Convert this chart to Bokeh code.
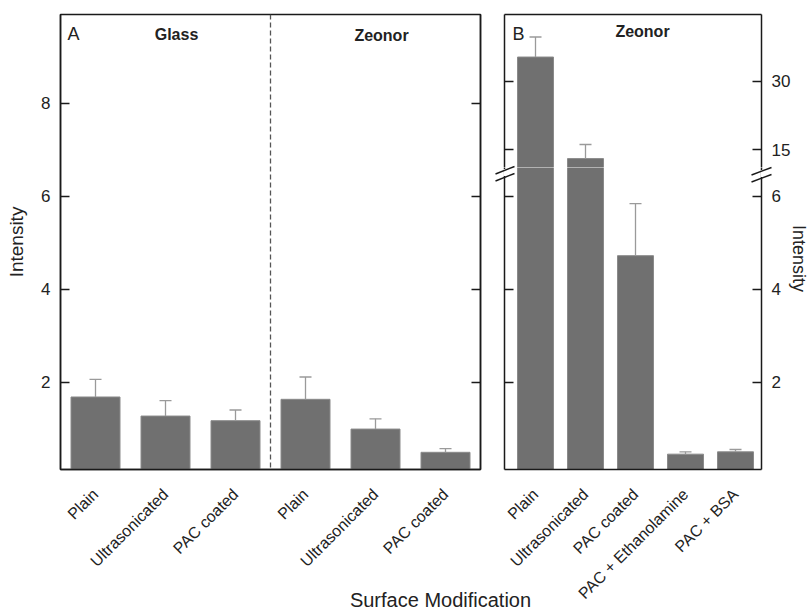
import math
from bokeh.plotting import figure
from bokeh.layouts import row, column
from bokeh.models import Range1d, LinearAxis, FixedTicker, Span, Label, ColumnDataSource
from bokeh.core.properties import value
from bokeh.embed import file_html
from bokeh.resources import INLINE

# ---------------- data ----------------
a_groups = ["Glass", "Zeonor"]
a_labels = ["Plain", "Ultrasonicated", "PAC coated", "Plain", "Ultrasonicated", "PAC coated"]
a_values = [1.68, 1.27, 1.17, 1.63, 0.99, 0.49]
a_err_top = [2.06, 1.60, 1.40, 2.11, 1.21, 0.57]

b_group = "Zeonor"
b_labels = ["Plain", "Ultrasonicated", "PAC coated", "PAC + Ethanolamine", "PAC + BSA"]
b_values = [35.3, 13.0, 4.72, 0.45, 0.50]
b_err_top = [39.7, 16.1, 5.84, 0.50, 0.55]

a_ticks = [2, 4, 6, 8]
b_low_ticks = [2, 4, 6]
b_high_ticks = [15, 30]

x_title = "Surface Modification"
y_title = "Intensity"
panel_tags = ["A", "B"]

# ---------------- style ----------------
FONT = "Liberation Sans"
BAR_FILL = "#707070"
BAR_LINE = "#8a8a8a"
ERR_COL = "#9a9a9a"
INK = "#1a1a1a"
TXT = "#222222"

PAGE_W, PAGE_H = 808, 608
TOP, BOTTOM = 14, 139          # frame top border / bottom border (frame bottom at 469)


def style_axis(ax, show_labels=True, size="17px", standoff=10):
    ax.axis_line_color = INK
    ax.axis_line_width = 1.5
    ax.major_tick_in = 9
    ax.major_tick_out = 0
    ax.major_tick_line_color = INK
    ax.major_tick_line_width = 1.3
    ax.minor_tick_line_color = None
    ax.major_label_text_font = FONT
    if show_labels:
        ax.major_label_text_font_size = size
        ax.major_label_text_color = TXT
        ax.major_label_standoff = standoff
    else:
        ax.major_label_text_font_size = "1px"
        ax.major_label_text_color = None
        ax.major_label_standoff = 0


def style_xaxis(ax, ticks, labels):
    ax.ticker = FixedTicker(ticks=ticks)
    ax.major_label_overrides = {t: l for t, l in zip(ticks, labels)}
    ax.axis_line_color = INK
    ax.axis_line_width = 1.5
    ax.major_tick_line_color = None
    ax.minor_tick_line_color = None
    ax.major_label_orientation = math.pi / 4
    ax.major_label_text_font = FONT
    ax.major_label_text_font_size = "16px"
    ax.major_label_text_color = TXT
    ax.major_label_standoff = 16


def draw_bars(p, xs, tops, errs, width):
    src = ColumnDataSource(dict(x=xs, top=tops, err=errs))
    p.vbar(x="x", top="top", bottom=0, width=width, source=src,
           fill_color=BAR_FILL, line_color=BAR_LINE, line_width=1)
    p.segment(x0="x", y0="top", x1="x", y1="err", source=src,
              line_color=ERR_COL, line_width=1.3)
    p.scatter(x="x", y="err", marker="dash", size=12, source=src,
              line_color=ERR_COL, line_width=1.3)


def clean(p):
    p.xgrid.visible = False
    p.ygrid.visible = False


def add_text(p, x, y, text, size, style="normal", align="center"):
    p.add_layout(Label(x=x, y=y, text=text, text_font=FONT, text_font_size=size,
                       text_font_style=style, text_align=align, text_baseline="middle",
                       text_color=TXT))


# ---------------- panel A ----------------
A_LEFT = 60.0
A_PX0, A_PPU = 474.6, 46.48        # pixel row of y=0 and px per unit


def a_x(px):
    return 0.5 + (px - A_LEFT) / 70.0


def a_y(px):
    return (A_PX0 - px) / A_PPU


xa = list(range(1, len(a_labels) + 1))
pA = figure(frame_width=420, frame_height=455,
            x_range=Range1d(0.5, 6.5), y_range=Range1d(0.12, 9.91),
            output_backend="svg", toolbar_location=None,
            min_border_left=60, min_border_right=12, min_border_top=TOP, min_border_bottom=BOTTOM)
clean(pA)
pA.outline_line_color = INK
pA.outline_line_width = 1.5
style_axis(pA.yaxis[0])
pA.yaxis[0].ticker = FixedTicker(ticks=a_ticks)
pA.yaxis[0].axis_label = y_title
pA.yaxis[0].axis_label_text_font = FONT
pA.yaxis[0].axis_label_text_font_size = "19px"
pA.yaxis[0].axis_label_text_font_style = "normal"
pA.yaxis[0].axis_label_text_color = TXT
pA.yaxis[0].axis_label_standoff = 11
ra = LinearAxis(ticker=FixedTicker(ticks=a_ticks))
style_axis(ra, show_labels=False)
pA.add_layout(ra, "right")
style_xaxis(pA.xaxis[0], xa, a_labels)

draw_bars(pA, xa, a_values, a_err_top, 0.7)
pA.add_layout(Span(location=3.5, dimension="height", line_color="#555555",
                   line_dash="5 3", line_width=1.3))

add_text(pA, a_x(67), a_y(33.5), panel_tags[0], "18px", align="left")
add_text(pA, a_x(176), a_y(34), a_groups[0], "16px", style="bold")
add_text(pA, a_x(381), a_y(35), a_groups[1], "16px", style="bold")

# ---------------- panel B ----------------
xb = list(range(1, len(b_labels) + 1))
bx_range = Range1d(0.38, 5.52)


def b_x(px):
    return 1 + (px - 535.0) / 50.0


B_TOP = 44.64
B_PPU_HI = 4.555


def b_y_hi(px):
    return B_TOP - (px - 14.0) / B_PPU_HI


pBu = figure(frame_width=257, frame_height=153, x_range=bx_range, y_range=Range1d(11.05, B_TOP),
             output_backend="svg", toolbar_location=None, x_axis_location=None,
             y_axis_location="right",
             min_border_left=12, min_border_right=34,
             min_border_top=TOP, min_border_bottom=0)
pBl = figure(frame_width=257, frame_height=302, x_range=bx_range, y_range=Range1d(0.12, 6.617),
             output_backend="svg", toolbar_location=None, y_axis_location="right",
             min_border_left=12, min_border_right=34,
             min_border_top=0, min_border_bottom=BOTTOM)

for p, ticks in ((pBu, b_high_ticks), (pBl, b_low_ticks)):
    clean(p)
    p.outline_line_color = None
    style_axis(p.yaxis[0])
    p.yaxis[0].ticker = FixedTicker(ticks=ticks)
    la = LinearAxis(ticker=FixedTicker(ticks=ticks))
    style_axis(la, show_labels=False)
    p.add_layout(la, "left")
    draw_bars(p, xb, b_values, b_err_top, 0.72)

top_ax = LinearAxis(ticker=FixedTicker(ticks=[]))
style_axis(top_ax, show_labels=False)
pBu.add_layout(top_ax, "above")
style_xaxis(pBl.xaxis[0], xb, b_labels)

add_text(pBu, b_x(512), b_y_hi(34), panel_tags[1], "18px", align="left")
add_text(pBu, b_x(642), b_y_hi(31), b_group, "16px", style="bold")

colB = column(pBu, pBl, spacing=0)

# ---------------- transparent overlay (page pixel coordinates) ----------------
pO = figure(width=PAGE_W, height=PAGE_H, x_range=Range1d(0, PAGE_W),
            y_range=Range1d(PAGE_H, 0),
            output_backend="svg", toolbar_location=None,
            x_axis_location=None, y_axis_location=None,
            min_border_left=0, min_border_right=0, min_border_top=0, min_border_bottom=0,
            background_fill_color=None, border_fill_color=None, outline_line_color=None,
            margin=(-PAGE_H, 0, 0, 0))
pO.grid.visible = False

# shared x-axis title and right-hand axis title of panel B
pO.text(x=[440], y=[596], text=[x_title], text_font=value(FONT),
        text_font_size=value("20px"), text_align=value("center"),
        text_baseline=value("middle"), text_color=TXT)
pO.text(x=[798], y=[255], text=[y_title], text_font=value(FONT),
        text_font_size=value("18px"), text_align=value("center"),
        text_baseline=value("middle"), text_color=TXT, angle=-math.pi / 2)

# axis-break marks on panel B (white gap in the axis line, then two slashes)
gap_x = [504.3, 761.5]
gap_y0 = [165.5, 166.5]
gap_y1 = [172.5, 173.5]
pO.segment(x0=gap_x, y0=gap_y0, x1=gap_x, y1=gap_y1, line_color="white", line_width=3)
brk_x0 = [495, 495, 751, 751]
brk_x1 = [514, 514, 771, 771]
brk_y0 = [170.5, 177.5, 171.5, 178.5]
brk_y1 = [163.0, 170.0, 164.0, 171.0]
pO.segment(x0=brk_x0, y0=brk_y0, x1=brk_x1, y1=brk_y1, line_color=INK, line_width=1.4)

layout = column(row(pA, colB, spacing=0), pO, spacing=0)

open("out.html", "w").write(file_html(layout, INLINE))
